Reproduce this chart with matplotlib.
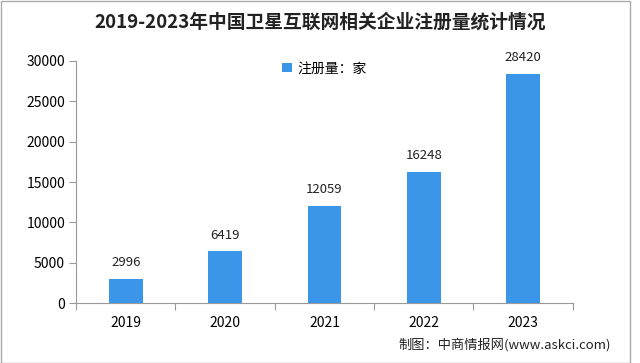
import matplotlib.pyplot as plt

plt.rcParams['font.family'] = ['Noto Sans CJK SC', 'DejaVu Sans']

years = ['2019', '2020', '2021', '2022', '2023']
counts = [2996, 6419, 12059, 16248, 28420]

fig = plt.figure(figsize=(6.4, 3.63), dpi=100)
ax = fig.add_axes([0.119, 0.165, 0.776, 0.667])

x = range(len(years))
ax.bar(x, counts, width=0.34, color='#3b96ea', label='注册量：家', zorder=2)
for xi, v in zip(x, counts):
    ax.text(xi, v + 1200, str(v), ha='center', va='bottom', fontsize=9.5, color='#222222')

ax.set_xlim(-0.5, len(years) - 0.5)
ax.set_ylim(0, 30000)
ax.set_yticks(range(0, 30001, 5000))
# category boundaries get the tick marks, labels sit between them
ax.set_xticks([i - 0.5 for i in range(len(years) + 1)])
ax.set_xticklabels([])
ax.set_xticks(list(x), minor=True)
ax.set_xticklabels(years, minor=True)
ax.tick_params(axis='x', which='minor', length=0, pad=9, labelsize=10)
ax.tick_params(axis='x', which='major', length=5, color='#999999')
ax.tick_params(axis='y', length=5, color='#999999', labelsize=10, pad=3)

for s in ['top', 'right']:
    ax.spines[s].set_visible(False)
ax.spines['left'].set_color('#999999')
ax.spines['bottom'].set_color('#999999')

fig.text(0.5, 0.94, '2019-2023年中国卫星互联网相关企业注册量统计情况', ha='center', va='center',
         fontsize=13.5, fontweight='bold', color='#222222')
ax.legend(loc='upper center', bbox_to_anchor=(0.5, 1.05), frameon=False, fontsize=10,
          handlelength=0.7, handleheight=0.7, handletextpad=0.4)
fig.text(0.955, 0.05, '制图：中商情报网(www.askci.com)', ha='right', va='center', fontsize=9.5, color='#222222')

fig.patches.append(plt.Rectangle((0.001, 0.001), 0.983, 0.997, transform=fig.transFigure,
                                 fill=False, edgecolor='#aaaaaa', linewidth=1))

fig.savefig('out.png', dpi=100)
